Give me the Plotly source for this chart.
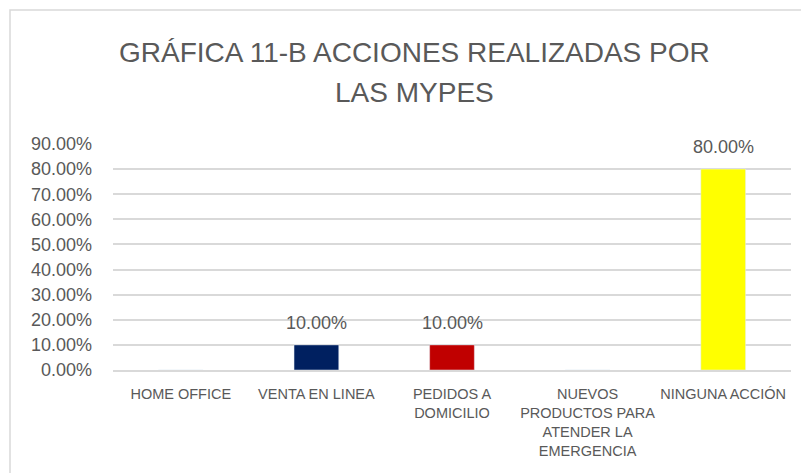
import plotly.graph_objects as go

categories = ["HOME OFFICE", "VENTA EN LINEA", "PEDIDOS A<br>DOMICILIO",
              "NUEVOS<br>PRODUCTOS PARA<br>ATENDER LA<br>EMERGENCIA", "NINGUNA ACCIÓN"]
values = [0.0, 0.10, 0.10, 0.0, 0.80]
labels = ["", "10.00%", "10.00%", "", "80.00%"]
colors = ["#4472C4", "#002060", "#C00000", "#A5A5A5", "#FFFF00"]
tick_vals = [0, 0.1, 0.2, 0.3, 0.4, 0.5, 0.6, 0.7, 0.8, 0.9]
tick_text = ["0.00%", "10.00%", "20.00%", "30.00%", "40.00%", "50.00%",
             "60.00%", "70.00%", "80.00%", "90.00%"]
title_lines = ["GRÁFICA 11-B ACCIONES REALIZADAS POR", "LAS MYPES"]

font = "Liberation Sans, Arial"
grey = "#595959"

# page body has an 8px margin; figure is sized to fill the remaining window
W, H = 801, 465
L, R, T, B = 105, 18, 136, 103
pw, ph = W - L - R, H - T - B

fig = go.Figure(go.Bar(
    x=categories, y=values, marker_color=colors, hoverinfo="x+y",
))

annotations = []
for c, v, lab in zip(categories, values, labels):
    if lab:
        annotations.append(dict(x=c, y=v, xref="x", yref="y", text=lab,
                                showarrow=False, yanchor="bottom", yshift=10,
                                font=dict(size=18, color=grey, family=font)))
for py, line in zip([45, 84], title_lines):
    annotations.append(dict(x=(406.5 - L) / pw, y=(H - B - py) / ph, xref="paper", yref="paper",
                            text=line, showarrow=False, xanchor="center", yanchor="middle",
                            font=dict(size=28, color=grey, family=font)))

fig.update_layout(
    width=W, height=H,
    paper_bgcolor="white", plot_bgcolor="white",
    margin=dict(l=L, r=R, t=T, b=B, autoexpand=False),
    bargap=0.67,
    showlegend=False,
    font=dict(family=font, color=grey),
    annotations=annotations,
    shapes=[dict(type="rect", xref="paper", yref="paper",
                 x0=(2 - L) / pw, x1=1.2, y0=-0.8, y1=(H - B - 2) / ph,
                 line=dict(color="#D9D9D9", width=1.5), layer="below")],
)
fig.update_xaxes(showgrid=False, showline=True, linecolor="#D9D9D9", linewidth=1.5,
                 tickfont=dict(size=14.5, color=grey, family=font), ticks="",
                 ticklabelstandoff=10)
fig.update_yaxes(range=[0, 0.9], tickvals=tick_vals, ticktext=tick_text,
                 showgrid=True, gridcolor="#D9D9D9", gridwidth=1.5, zeroline=False,
                 tickfont=dict(size=18, color=grey, family=font), ticks="",
                 ticklabelstandoff=20)

fig.write_html("out.html")
